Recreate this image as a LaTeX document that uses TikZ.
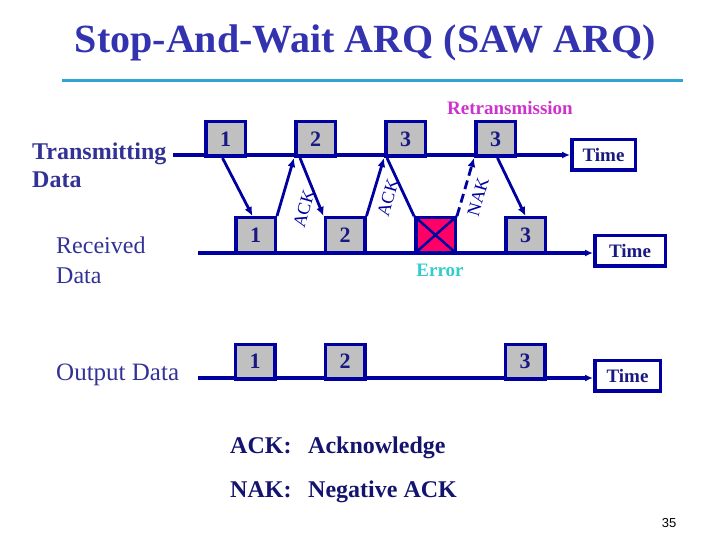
\documentclass[tikz,border=0pt]{standalone}
\usepackage{fontspec}
\setmainfont{Liberation Serif}
\setsansfont{Liberation Sans}
\usetikzlibrary{arrows.meta,calc}
\definecolor{navy}{RGB}{0,0,160}
\definecolor{numblue}{RGB}{25,25,130}
\definecolor{lblblue}{RGB}{50,50,150}
\definecolor{titleblue}{RGB}{51,51,175}
\definecolor{botblue}{RGB}{20,20,110}
\definecolor{boxgray}{RGB}{192,192,192}
\definecolor{errred}{RGB}{255,0,102}
\definecolor{retx}{RGB}{204,51,204}
\definecolor{errcyan}{RGB}{51,204,204}
\definecolor{rule}{RGB}{47,165,213}
\begin{document}
\begin{tikzpicture}[x=1pt,y=-1pt,
  pkt/.style={draw=navy, line width=3.5pt, fill=boxgray, minimum width=39.5pt, minimum height=34.5pt, inner sep=0pt, font=\fontsize{22}{22}\selectfont\bfseries, text=numblue},
  errbox/.style={pkt, fill=errred},
  timebox/.style={draw=navy, line width=3.5pt, fill=white, minimum height=30.5pt, inner sep=0pt, font=\fontsize{19}{19}\selectfont\bfseries, text=numblue},
  axis/.style={draw=navy, line width=3.5pt},
  axisarr/.style={axis, -{Latex[length=8pt,width=7pt]}},
  arr/.style={draw=navy, line width=2.8pt, -{Latex[length=9pt,width=8pt]}},
  plain/.style={draw=navy, line width=2.8pt},
  lbl/.style={inner sep=0pt, anchor=base west, text=lblblue},
  rotlbl/.style={inner sep=0pt, rotate=74, text=navy, font=\fontsize{18}{18}\selectfont}
]
\useasboundingbox (0,0) rectangle (720,540);

% title
\node[inner sep=0pt, anchor=base, text=titleblue, font=\fontsize{40}{40}\selectfont\bfseries] (title) at (365.5,53) {Stop-And-Wait ARQ (SAW ARQ)};
\coordinate (ruleL) at (62,81);
\coordinate (ruleR) at (683,81);
\draw[rule, line width=3pt] (ruleL) -- (ruleR);

% row labels
\node[lbl, font=\fontsize{24}{24}\selectfont\bfseries] (txl1) at (32,160) {Transmitting};
\node[lbl, font=\fontsize{24}{24}\selectfont\bfseries] (txl2) at (32,188) {Data};
\node[lbl, font=\fontsize{24}{24}\selectfont] (rxl1) at (56,254) {Received};
\node[lbl, font=\fontsize{24}{24}\selectfont] (rxl2) at (56,283) {Data};
\node[lbl, font=\fontsize{25}{25}\selectfont] (outl) at (56,380) {Output Data};

% time boxes
\node[timebox, minimum width=63.5pt] (tt) at (603.5,155) {Time};
\node[timebox, minimum width=70.5pt] (rt) at (630,250.5) {Time};
\node[timebox, minimum width=65.5pt] (ot) at (627.5,375.5) {Time};

% axes
\coordinate (txs) at (173,155);
\coordinate (rxs) at (198,253);
\coordinate (oxs) at (198,378);
\draw[axisarr] (txs) -- (txs -| tt.west);
\draw[axisarr] (rxs) -- (rxs -| rt.west);
\draw[axisarr] (oxs) -- (oxs -| ot.west);

% transmitted frames
\node[pkt] (t1) at (225.5,139) {1};
\node[pkt] (t2) at (315.5,139) {2};
\node[pkt] (t3) at (405.5,139) {3};
\node[pkt] (t4) at (495.5,139) {3};

% received frames
\node[pkt] (r1) at (255.5,235) {1};
\node[pkt] (r2) at (345,235) {2};
\node[errbox] (err) at (435.5,235) {};
\draw[navy, line width=2.5pt] (err.north west) -- (err.south east);
\draw[navy, line width=2.5pt] (err.south west) -- (err.north east);
\node[pkt] (r3) at (525.5,235) {3};

% output frames
\node[pkt] (o1) at (255,361.5) {1};
\node[pkt] (o2) at (345,361.5) {2};
\node[pkt] (o3) at (525,361.5) {3};

% connectors
\draw[arr] ([xshift=-3pt]t1.south) -- ([xshift=-3pt]r1.north);
\draw[arr] (r1.north east) -- (t2.south west);
\draw[arr] ([xshift=6pt]t2.south west) -- (r2.north west);
\draw[arr] (r2.north east) -- (t3.south west);
\draw[plain] ([xshift=3pt]t3.south west) -- (err.north west);
\draw[arr, dashed, dash pattern=on 9pt off 5pt] (err.north east) -- (t4.south west);
\draw[arr] ([xshift=2pt]t4.south) -- (r3.north);

% connector labels
\node[rotlbl] (ack1) at (304,209) {ACK};
\node[rotlbl] (ack2) at (388,198) {ACK};
\node[rotlbl] (nak) at (478,197) {NAK};

\node[inner sep=0pt, text=retx, font=\fontsize{19}{19}\selectfont\bfseries] (retr) at (510,108) {Retransmission};
\node[inner sep=0pt, text=errcyan, font=\fontsize{19}{19}\selectfont\bfseries] (errl) at (440,270) {Error};

% legend
\node[inner sep=0pt, anchor=base west, text=botblue, font=\fontsize{24}{24}\selectfont\bfseries] (leg1) at (230,453) {ACK:};
\node[inner sep=0pt, anchor=base west, text=botblue, font=\fontsize{24}{24}\selectfont\bfseries] (leg1b) at (308,453) {Acknowledge};
\node[inner sep=0pt, anchor=base west, text=botblue, font=\fontsize{24}{24}\selectfont\bfseries] (leg2) at (230,497) {NAK:};
\node[inner sep=0pt, anchor=base west, text=botblue, font=\fontsize{24}{24}\selectfont\bfseries] (leg2b) at (308,497) {Negative ACK};

\node[inner sep=0pt, font=\sffamily\fontsize{13}{13}\selectfont] (pg) at (669,523) {35};
\end{tikzpicture}
\end{document}
